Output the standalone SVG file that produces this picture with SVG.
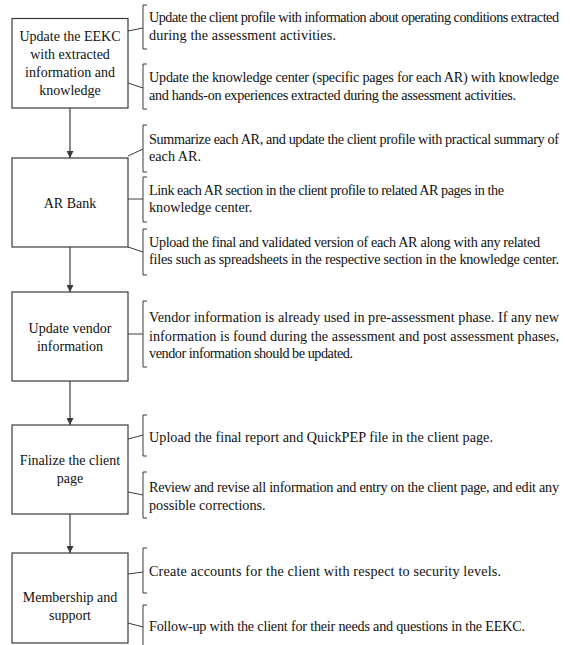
<svg xmlns="http://www.w3.org/2000/svg" width="570" height="645" viewBox="0 0 570 645">
  <style>
    .box { fill: #ffffff; stroke: #3a3a3a; stroke-width: 1.2; }
    .lbl { font-family: 'Liberation Serif', 'Times New Roman', serif; font-size: 14px; fill: #111; text-anchor: middle; }
    .txt { font-family: 'Liberation Serif', 'Times New Roman', serif; font-size: 14.2px; fill: #111; }
    .brk { fill: none; stroke: #3a3a3a; stroke-width: 1; }
    .con { fill: none; stroke: #3a3a3a; stroke-width: 1; }
    .arr { fill: none; stroke: #3a3a3a; stroke-width: 1.2; marker-end: url(#head); }
  </style>
  <defs>
    <marker id="head" viewBox="0 0 10 10" refX="10" refY="5" markerWidth="7" markerHeight="7" markerUnits="userSpaceOnUse" orient="auto">
      <path d="M0,0 L10,5 L0,10 z" fill="#3a3a3a"/>
    </marker>
  </defs>

  <rect width="570" height="645" fill="#ffffff"/>

  <!-- process steps -->
  <g id="step-update-eekc">
    <rect class="box" x="12" y="18.5" width="116" height="89.5"/>
    <text class="lbl" x="70" y="41">Update the EEKC</text>
    <text class="lbl" x="70" y="59">with extracted</text>
    <text class="lbl" x="70" y="77">information and</text>
    <text class="lbl" x="70" y="95">knowledge</text>
  </g>
  <g id="step-ar-bank">
    <rect class="box" x="12" y="158" width="116" height="89"/>
    <text class="lbl" x="70" y="208">AR Bank</text>
  </g>
  <g id="step-vendor">
    <rect class="box" x="12" y="292" width="116" height="89"/>
    <text class="lbl" x="70" y="333">Update vendor</text>
    <text class="lbl" x="70" y="351">information</text>
  </g>
  <g id="step-client-page">
    <rect class="box" x="12" y="425" width="116" height="89"/>
    <text class="lbl" x="70" y="465">Finalize the client</text>
    <text class="lbl" x="70" y="483">page</text>
  </g>
  <g id="step-membership">
    <rect class="box" x="12" y="553" width="116" height="90"/>
    <text class="lbl" x="70" y="602">Membership and</text>
    <text class="lbl" x="70" y="620">support</text>
  </g>

  <!-- task notes, each with its bracket; long lines are set to a fixed measure -->
  <g id="note-client-profile">
    <path class="brk" d="M147,5 H143 V49 H147"/>
    <text class="txt" x="149" y="22" textLength="410" lengthAdjust="spacing">Update the client profile with information about operating conditions extracted</text>
    <text class="txt" x="149" y="40" textLength="187" lengthAdjust="spacing">during the assessment activities.</text>
  </g>
  <g id="note-knowledge-center">
    <path class="brk" d="M147,64 H143 V109 H147"/>
    <text class="txt" x="149" y="82" textLength="410" lengthAdjust="spacing">Update the knowledge center (specific pages for each AR) with knowledge</text>
    <text class="txt" x="149" y="100" textLength="367" lengthAdjust="spacing">and hands-on experiences extracted during the assessment activities.</text>
  </g>
  <g id="note-summarize">
    <path class="brk" d="M147,125 H143 V172 H147"/>
    <text class="txt" x="149" y="144" textLength="410" lengthAdjust="spacing">Summarize each AR, and update the client profile with practical summary of</text>
    <text class="txt" x="149" y="161">each AR.</text>
  </g>
  <g id="note-link">
    <path class="brk" d="M147,177 H143 V222 H147"/>
    <text class="txt" x="149" y="195" textLength="355" lengthAdjust="spacing">Link each AR section in the client profile to related AR pages in the</text>
    <text class="txt" x="149" y="212">knowledge center.</text>
  </g>
  <g id="note-upload-ar">
    <path class="brk" d="M147,229 H143 V275 H147"/>
    <text class="txt" x="149" y="247" textLength="391" lengthAdjust="spacing">Upload the final and validated version of each AR along with any related</text>
    <text class="txt" x="149" y="264" textLength="410" lengthAdjust="spacing">files such as spreadsheets in the respective section in the knowledge center.</text>
  </g>
  <g id="note-vendor">
    <path class="brk" d="M147,301 H143 V367 H147"/>
    <text class="txt" x="149" y="322" textLength="410" lengthAdjust="spacing">Vendor information is already used in pre-assessment phase. If any new</text>
    <text class="txt" x="149" y="340.5" textLength="410" lengthAdjust="spacing">information is found during the assessment and post assessment phases,</text>
    <text class="txt" x="149" y="358" textLength="204" lengthAdjust="spacing">vendor information should be updated.</text>
  </g>
  <g id="note-final-report">
    <path class="brk" d="M147,415 H143 V456 H147"/>
    <text class="txt" x="149" y="442" textLength="344" lengthAdjust="spacing">Upload the final report and QuickPEP file in the client page.</text>
  </g>
  <g id="note-review">
    <path class="brk" d="M147,472 H143 V518 H147"/>
    <text class="txt" x="149" y="492" textLength="410" lengthAdjust="spacing">Review and revise all information and entry on the client page, and edit any</text>
    <text class="txt" x="149" y="510">possible corrections.</text>
  </g>
  <g id="note-accounts">
    <path class="brk" d="M147,548 H143 V593 H147"/>
    <text class="txt" x="149" y="576" textLength="352" lengthAdjust="spacing">Create accounts for the client with respect to security levels.</text>
  </g>
  <g id="note-follow-up">
    <path class="brk" d="M147,605 H143 V650 H147"/>
    <text class="txt" x="149" y="631" textLength="376" lengthAdjust="spacing">Follow-up with the client for their needs and questions in the EEKC.</text>
  </g>

  <!-- connectors: flow arrows and step-to-note ticks -->
  <g id="connectors">
    <line class="arr" x1="70" y1="108" x2="70" y2="158"/>
    <line class="arr" x1="70" y1="247" x2="70" y2="292"/>
    <line class="arr" x1="70" y1="381" x2="70" y2="425"/>
    <line class="arr" x1="70" y1="514" x2="70" y2="553"/>

    <line class="con" x1="128" y1="31" x2="143" y2="28"/>
    <line class="con" x1="128" y1="83" x2="143" y2="88"/>
    <line class="con" x1="128" y1="156" x2="143" y2="149"/>
    <line class="con" x1="128" y1="199" x2="143" y2="199"/>
    <line class="con" x1="128" y1="247" x2="143" y2="252"/>
    <line class="con" x1="128" y1="334" x2="143" y2="334"/>
    <line class="con" x1="128" y1="439" x2="143" y2="435"/>
    <line class="con" x1="128" y1="492" x2="143" y2="495"/>
    <line class="con" x1="128" y1="574" x2="143" y2="572"/>
    <line class="con" x1="128" y1="623" x2="143" y2="627"/>
  </g>
</svg>
